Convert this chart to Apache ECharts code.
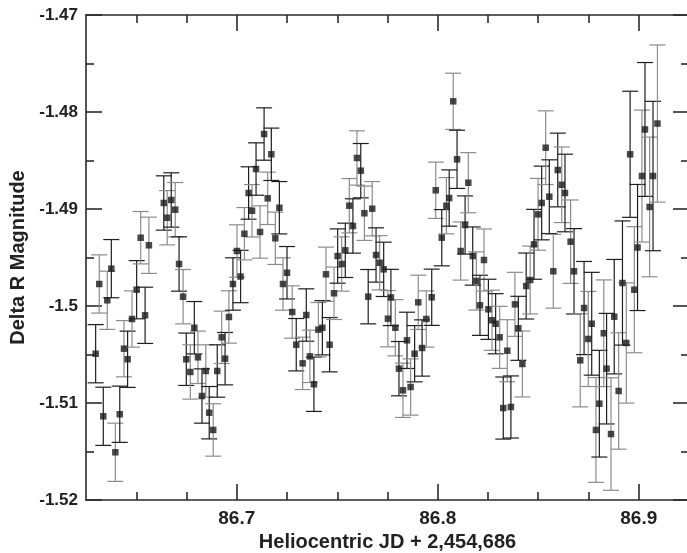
<!DOCTYPE html>
<html>
<head>
<meta charset="utf-8">
<script src="https://cdn.jsdelivr.net/npm/echarts@6/dist/echarts.min.js"></script>
<style>
html,body{margin:0;padding:0;background:#fff;}
#chart{width:687px;height:553px;}
</style>
</head>
<body>
<div id="chart"></div>
<script>
// Heliocentric JD offset (x), Delta R magnitude (y), error half-length
var jd = [
86.6298,86.6316,86.6336,86.6356,86.6376,86.6396,86.6418,86.6439,86.6457,86.6479,
86.6502,86.6522,86.6544,86.6563,86.6637,86.6654,86.6674,86.6694,86.6713,86.6733,
86.6749,86.6769,86.6789,86.6807,86.6827,86.6846,86.6863,86.6883,86.6903,86.6925,
86.6942,86.6961,86.6981,86.7001,86.7019,86.7038,86.7059,86.7076,86.7096,86.7116,
86.7136,86.7154,86.7172,86.7192,86.7212,86.7230,86.7250,86.7276,86.7296,86.7328,
86.7346,86.7364,86.7384,86.7406,86.7426,86.7444,86.7462,86.7484,86.7502,86.7522,
86.7540,86.7560,86.7578,86.7598,86.7617,86.7635,86.7654,86.7674,86.7693,86.7711,
86.7731,86.7752,86.7767,86.7789,86.7807,86.7827,86.7847,86.7865,86.7885,86.7903,
86.7922,86.7943,86.7970,86.7990,86.8020,86.8043,86.8057,86.8077,86.8096,86.8114,
86.8136,86.8152,86.8174,86.8192,86.8210,86.8230,86.8252,86.8270,86.8288,86.8308,
86.8326,86.8346,86.8364,86.8384,86.8401,86.8421,86.8440,86.8460,86.8479,86.8499,
86.8517,86.8537,86.8555,86.8575,86.8597,86.8617,86.8633,86.8661,86.8678,86.8709,
86.8728,86.8749,86.8766,86.8787,86.8804,86.8826,86.8840,86.8862,86.8878,86.8900,
86.8919,86.8938,86.8957,86.8978,86.8994,86.9016,86.9031,86.9054,86.9071,86.9093
];
var mag = [
-1.50492,-1.49773,-1.51137,-1.49941,-1.49615,-1.51508,-1.51116,-1.50440,-1.50549,-1.50134,
-1.49832,-1.49296,-1.50096,-1.49374,-1.48938,-1.49090,-1.48907,-1.49007,-1.49567,-1.49904,
-1.50549,-1.50680,-1.50224,-1.50529,-1.50928,-1.50670,-1.51100,-1.51278,-1.50670,-1.50323,
-1.50543,-1.50113,-1.49773,-1.49433,-1.49696,-1.49255,-1.48835,-1.49018,-1.48588,-1.49237,
-1.48227,-1.48890,-1.48436,-1.49302,-1.48987,-1.49773,-1.49657,-1.50062,-1.50399,-1.50591,
-1.50093,-1.50519,-1.50807,-1.50244,-1.50224,-1.49673,-1.50399,-1.49869,-1.49485,-1.49567,
-1.49426,-1.48966,-1.49175,-1.48474,-1.48605,-1.49044,-1.49904,-1.48997,-1.49474,-1.49554,
-1.49622,-1.50131,-1.49912,-1.50224,-1.50646,-1.50869,-1.50354,-1.50835,-1.50492,-1.49962,
-1.50433,-1.50134,-1.49910,-1.48807,-1.49296,-1.48966,-1.48887,-1.47890,-1.48488,-1.49433,
-1.49165,-1.48729,-1.49485,-1.49742,-1.49993,-1.49526,-1.50034,-1.50147,-1.50183,-1.50323,
-1.51052,-1.50461,-1.51041,-1.49983,-1.50230,-1.50598,-1.49794,-1.49732,-1.49364,-1.49055,
-1.48938,-1.48368,-1.48873,-1.49642,-1.48598,-1.48750,-1.48835,-1.49337,-1.49642,-1.50560,
-1.50021,-1.50340,-1.50183,-1.51278,-1.51007,-1.50281,-1.50646,-1.51320,-1.50110,-1.50876,
-1.49763,-1.50381,-1.48436,-1.49832,-1.49397,-1.48660,-1.48180,-1.48979,-1.48660,-1.48119
];
var err = [
0.0030,0.0030,0.0030,0.0030,0.0030,0.0030,0.0029,0.0029,0.0029,0.0029,
0.0030,0.0027,0.0029,0.0029,0.0028,0.0028,0.0028,0.0028,0.0028,0.0028,
0.0027,0.0028,0.0027,0.0027,0.0028,0.0027,0.0027,0.0027,0.0027,0.0027,
0.0027,0.0027,0.0027,0.0027,0.0027,0.0027,0.0027,0.0027,0.0027,0.0027,
0.0027,0.0027,0.0027,0.0027,0.0027,0.0027,0.0027,0.0027,0.0027,0.0027,
0.0027,0.0027,0.0028,0.0028,0.0028,0.0028,0.0028,0.0027,0.0028,0.0028,
0.0028,0.0028,0.0028,0.0028,0.0028,0.0028,0.0028,0.0028,0.0028,0.0028,
0.0028,0.0029,0.0029,0.0029,0.0028,0.0028,0.0029,0.0029,0.0029,0.0028,
0.0029,0.0029,0.0029,0.0029,0.0029,0.0029,0.0029,0.0029,0.0030,0.0030,
0.0030,0.0031,0.0030,0.0030,0.0031,0.0032,0.0031,0.0031,0.0031,0.0032,
0.0032,0.0032,0.0032,0.0033,0.0033,0.0034,0.0034,0.0035,0.0036,0.0037,
0.0038,0.0038,0.0038,0.0038,0.0038,0.0039,0.0040,0.0043,0.0044,0.0048,
0.0048,0.0049,0.0053,0.0054,0.0055,0.0055,0.0057,0.0058,0.0059,0.0060,
0.0064,0.0062,0.0065,0.0065,0.0065,0.0068,0.0069,0.0072,0.0077,0.0081
];
var xMajorTicks = [86.7, 86.8, 86.9];
var xMinorTicks = [86.65, 86.675, 86.725, 86.75, 86.775, 86.825, 86.85, 86.875];
var xTitle = 'Heliocentric JD + 2,454,686';
var yTitle = 'Delta R Magnitude';

var FONT = '"Liberation Sans", Arial, Helvetica, sans-serif';
var AX = '#2a2a2a';

var points = jd.map(function (x, i) { return [x, mag[i], err[i]]; });

function xAxisDef(pos, ticks, len, showLine, showLabel) {
  return {
    type: 'value', position: pos, min: 86.625, max: 86.925,
    splitLine: {show: false},
    axisLine: {show: showLine, onZero: false, lineStyle: {color: AX, width: 1.6}},
    axisTick: {show: true, inside: true, length: len, customValues: ticks, lineStyle: {color: AX, width: 1.6}},
    axisLabel: {show: showLabel, customValues: ticks, margin: 9,
      color: '#222', fontFamily: FONT, fontWeight: 'bold', fontSize: 19,
      formatter: function (v) { return String(+v.toFixed(2)); }},
    name: showLabel ? xTitle : '', nameLocation: 'middle', nameGap: 28,
    nameTextStyle: {color: '#222', fontFamily: FONT, fontWeight: 'bold', fontSize: 20}
  };
}
function yAxisDef(pos, showLabel) {
  return {
    type: 'value', position: pos, min: -1.52, max: -1.47, interval: 0.01,
    splitLine: {show: false},
    axisLine: {show: true, onZero: false, lineStyle: {color: AX, width: 1.6}},
    axisTick: {show: true, inside: true, length: 16, lineStyle: {color: AX, width: 1.6}},
    minorTick: {show: true, splitNumber: 2, length: 8, lineStyle: {color: AX, width: 1.6}},
    axisLabel: {show: showLabel, margin: 8, color: '#222', fontFamily: FONT, fontWeight: 'bold', fontSize: 17,
      formatter: function (v) { return String(+v.toFixed(2)); }},
    name: showLabel ? yTitle : '', nameLocation: 'middle', nameGap: 58,
    nameTextStyle: {color: '#222', fontFamily: FONT, fontWeight: 'bold', fontSize: 20}
  };
}

var chart = echarts.init(document.getElementById('chart'), null, {renderer: 'canvas'});
chart.setOption({
  animation: false,
  backgroundColor: '#fff',
  grid: {left: 86, top: 15, width: 603, height: 485, containLabel: false, outerBoundsMode: 'none'},
  xAxis: [
    xAxisDef('bottom', xMajorTicks, 16, true, true),
    xAxisDef('bottom', xMinorTicks, 8, false, false),
    xAxisDef('top', xMajorTicks, 16, true, false),
    xAxisDef('top', xMinorTicks, 8, false, false)
  ],
  yAxis: [yAxisDef('left', true), yAxisDef('right', false)],
  series: [
    {
      type: 'custom', xAxisIndex: 0, yAxisIndex: 0, z: 2,
      data: points,
      encode: {x: 0, y: 1},
      renderItem: function (params, api) {
        var x = api.value(0), y = api.value(1), e = api.value(2);
        var t = api.coord([x, y + e]);
        var b = api.coord([x, y - e]);
        var c = params.dataIndex % 2 ? '#8c8c8c' : '#1e1e1e';
        var hw = 8;
        var st = {stroke: c, lineWidth: 1.2};
        return {type: 'group', children: [
          {type: 'line', shape: {x1: t[0], y1: t[1], x2: b[0], y2: b[1]}, style: st},
          {type: 'line', shape: {x1: t[0] - hw, y1: t[1], x2: t[0] + hw, y2: t[1]}, style: st},
          {type: 'line', shape: {x1: b[0] - hw, y1: b[1], x2: b[0] + hw, y2: b[1]}, style: st}
        ]};
      }
    },
    {
      type: 'scatter', xAxisIndex: 0, yAxisIndex: 0, z: 3,
      data: points, symbol: 'rect', symbolSize: 6.5,
      itemStyle: {color: '#1a1a1a'},
      encode: {x: 0, y: 1}
    }
  ]
});
</script>
</body>
</html>
